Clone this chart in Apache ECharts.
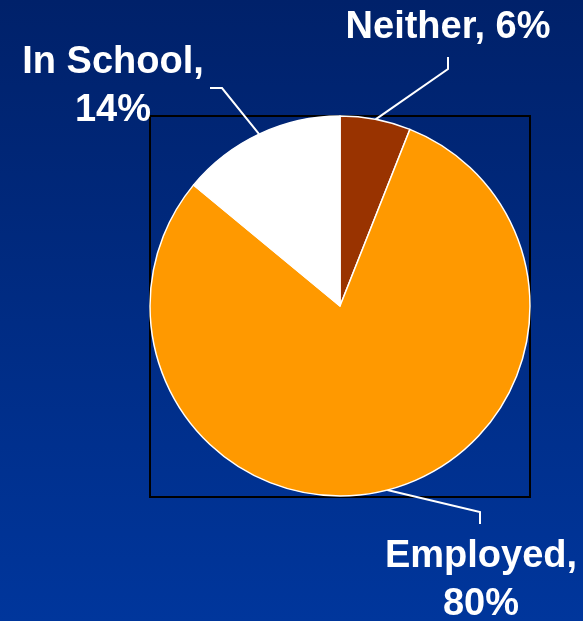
<!DOCTYPE html>
<html>
<head>
<meta charset="utf-8">
<script src="https://cdn.jsdelivr.net/npm/echarts@6/dist/echarts.min.js"></script>
<style>
html,body{margin:0;padding:0;}
#chart{width:583px;height:621px;}
</style>
</head>
<body>
<div id="chart"></div>
<script>
var categories = ['Neither', 'Employed', 'In School'];
var values = [6, 80, 14];
var sliceColors = ['#993300', '#FF9900', '#FFFFFF'];

// label placements (layout only): label centre and leader-line bend/end points
var labelPos = [
  {x: 448, y: 28, bend: [448, 69], end: [448, 57]},
  {x: 481, y: 581, bend: [480, 512], end: [480, 524]},
  {x: 113, y: 87, bend: [222, 88], end: [210, 88]}
];

var chart = echarts.init(document.getElementById('chart'), null, {renderer: 'canvas'});
var option = {
  backgroundColor: new echarts.graphic.LinearGradient(0, 0, 0, 1, [
    {offset: 0, color: '#00216A'},
    {offset: 1, color: '#00369C'}
  ]),
  animation: false,
  graphic: [{
    type: 'rect',
    z: 0,
    shape: {x: 150, y: 116, width: 380, height: 381},
    style: {fill: 'none', stroke: '#000000', lineWidth: 2}
  }],
  series: [{
    type: 'pie',
    z: 5,
    center: [340, 306],
    radius: 190,
    startAngle: 90,
    clockwise: true,
    data: categories.map(function (c, i) {
      return {name: c, value: values[i], itemStyle: {color: sliceColors[i]}};
    }),
    itemStyle: {borderColor: '#FFFFFF', borderWidth: 1.5},
    label: {
      show: true,
      color: '#FFFFFF',
      fontFamily: 'Liberation Sans, Arial, sans-serif',
      fontWeight: 'bold',
      fontSize: 38,
      lineHeight: 48,
      align: 'center',
      overflow: 'none',
      width: 300,
      formatter: function (p) {
        return p.name + ',' + (p.dataIndex === 0 ? ' ' : '\n') + p.value + '%';
      }
    },
    labelLine: {
      show: true,
      lineStyle: {color: '#FFFFFF', width: 2}
    },
    labelLayout: function (params) {
      var lp = labelPos[params.dataIndex];
      var start = params.labelLinePoints ? params.labelLinePoints[0] : lp.bend;
      return {
        x: lp.x,
        y: lp.y,
        width: 300,
        align: 'center',
        verticalAlign: 'middle',
        labelLinePoints: [start, lp.bend, lp.end]
      };
    },
    emphasis: {disabled: true}
  }]
};
chart.setOption(option);
</script>
</body>
</html>
